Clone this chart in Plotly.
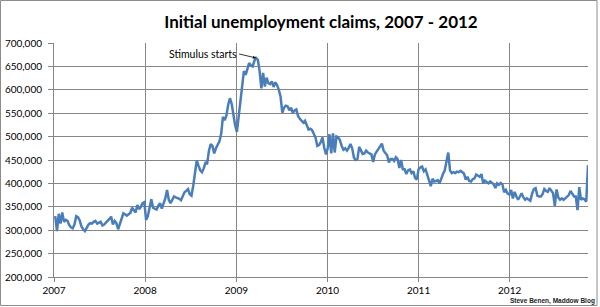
import plotly.graph_objects as go
import pandas as pd

# Weekly initial unemployment claims (thousands)
claims_2007 = [330,298,335,314,338,318,322,320,311,306,304,312,330,328,321,308,302,298,305,312,
               315,314,318,320,314,316,318,310,312,316,319,324,329,312,320,315,302,312,322,336,
               334,331,334,337,348,343,338,354,345,350,358,360]
claims_2008 = [322,330,352,366,348,345,344,352,358,346,355,368,386,365,358,366,372,370,369,367,
               364,372,381,384,388,377,374,395,425,449,438,428,424,432,444,443,470,484,480,464,
               475,482,490,506,542,535,545,568,582,570,545,524]
claims_2009 = [510,545,582,620,640,632,645,657,652,650,662,668,664,640,603,636,607,626,614,612,
               618,606,616,610,600,585,551,562,566,565,556,562,550,556,558,544,538,534,530,534,
               524,515,517,514,506,498,480,482,488,498,476,462]
claims_2010 = [475,505,464,507,466,500,498,492,480,472,475,470,476,484,475,455,450,452,478,470,
               463,464,470,466,463,462,446,462,468,474,480,485,470,466,460,445,452,452,448,456,
               452,433,450,430,430,420,428,430,422,426,412,408]
claims_2011 = [430,434,436,426,430,418,405,394,410,404,405,407,400,412,420,428,445,466,428,422,
               424,422,425,424,427,424,421,408,414,405,404,409,411,419,416,414,420,400,406,403,
               400,404,400,398,390,400,397,401,398,381,386,378,376]
claims_2012 = [386,368,382,372,365,372,379,370,365,368,366,363,378,388,390,374,372,372,377,388,
               384,382,390,384,379,352,387,370,365,368,365,368,372,375,384,378,372,372,343,392,
               365,368,366,361,439]

first_week = "2007-01-06"
x_start, x_end = "2007-01-01", "2012-11-10"
y_ticks = [200000, 250000, 300000, 350000, 400000, 450000, 500000, 550000, 600000, 650000, 700000]
title_text = "Initial unemployment claims, 2007 - 2012"
annot_text = "Stimulus starts"
credit_text = "Steve Benen, Maddow Blog"

claims_k = claims_2007 + claims_2008 + claims_2009 + claims_2010 + claims_2011 + claims_2012
claims = [v * 1000 for v in claims_k]
dates = pd.date_range(first_week, periods=len(claims), freq="7D")

peak_i = max(range(len(claims)), key=lambda i: claims[i])

W, H = 600, 307
ML, MR, MT, MB = 54, 12, 43, 30
PW, PH = W - ML - MR, H - MT - MB

def px_x(X):
    return (X - ML) / PW

def px_y(Y):
    return (H - MB - Y) / PH

GRID = "#868686"
LINE = "#4a7ebb"

fig = go.Figure()
fig.add_trace(go.Scatter(
    x=dates, y=claims, mode="lines",
    line=dict(color=LINE, width=2.5),
    hoverinfo="skip", showlegend=False,
))

fig.update_layout(
    width=W, height=H,
    margin=dict(l=ML, r=MR, t=MT, b=MB, pad=0),
    paper_bgcolor="white", plot_bgcolor="white",
    title=dict(text=title_text, x=0.5, xanchor="center", xref="paper",
               y=1 - 22 / H, yanchor="middle",
               font=dict(family="Lato", size=17, color="black", weight="bold")),
    font=dict(family="Lato", size=10, color="black"),
    xaxis=dict(
        type="date", range=[x_start, x_end], automargin=False,
        tick0=x_start, dtick="M12", tickformat="%Y",
        showgrid=True, gridcolor=GRID, gridwidth=1,
        showline=True, linecolor=GRID, linewidth=1,
        ticks="outside", ticklen=4, tickcolor=GRID,
        tickfont=dict(family="Lato", size=10, color="black"),
        zeroline=False, fixedrange=True,
    ),
    yaxis=dict(
        range=[200000, 700000], tickvals=y_ticks, tickformat=",", automargin=False,
        showgrid=True, gridcolor=GRID, gridwidth=1,
        showline=True, linecolor=GRID, linewidth=1,
        ticks="outside", ticklen=5, tickcolor=GRID, ticklabelstandoff=4,
        tickfont=dict(family="Lato", size=10, color="black"),
        zeroline=False, fixedrange=True,
    ),
    annotations=[
        dict(x=dates[peak_i], y=claims[peak_i], xref="x", yref="y",
             text=annot_text, showarrow=True, arrowhead=2, arrowsize=0.8,
             arrowwidth=0.8, arrowcolor="black", ax=-17, ay=-4,
             xanchor="right", yanchor="middle",
             font=dict(family="Lato", size=10.5, color="black")),
        dict(x=px_x(597), y=px_y(300.5), xref="paper", yref="paper",
             text=credit_text, showarrow=False, xanchor="right", yanchor="middle",
             font=dict(family="Liberation Sans", size=6.5, color="#222222", weight="bold")),
    ],
    shapes=[
        dict(type="rect", xref="paper", yref="paper",
             x0=px_x(0.5), x1=px_x(597), y0=px_y(305.5), y1=px_y(0.5),
             line=dict(color="#8c8c8c", width=1), fillcolor="rgba(0,0,0,0)", layer="below"),
    ],
)

fig.write_html("out.html")
